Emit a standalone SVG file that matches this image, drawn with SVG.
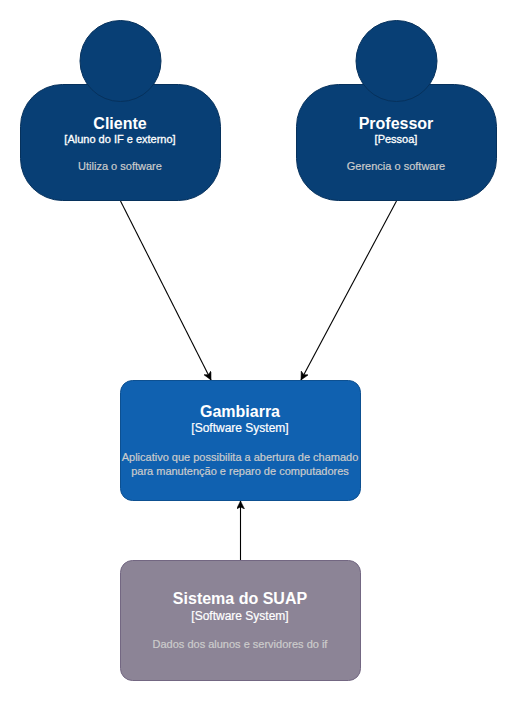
<svg xmlns="http://www.w3.org/2000/svg" width="517" height="701" viewBox="0 0 517 701">
<style>
text{font-family:"Liberation Sans",Arial,Helvetica,sans-serif;text-anchor:middle}
.t{font-size:16px;font-weight:bold;fill:#fff}
.s{font-size:12px;fill:#fff;stroke:#fff;stroke-width:.2}
.sb{font-size:11px;fill:#fff;stroke:#fff;stroke-width:.3}
.d{font-size:11px;fill:#ccc;stroke:#ccc;stroke-width:.2}
.p{fill:#083f75;stroke:#06315c}
.c{fill:none;stroke:#000;stroke-width:1.1;marker-end:url(#a)}
</style>
<defs>
<marker id="a" markerUnits="userSpaceOnUse" markerWidth="10" markerHeight="10" refX="8" refY="4" orient="auto"><path d="M0 0L8 4L0 8L2 4Z" fill="#000" stroke="#000" stroke-width="0.5"/></marker>
</defs>
<rect width="517" height="701" fill="#fff"/>
<g id="connectors">
<path class="c" d="M120.500 201L211 380"/>
<path class="c" d="M396.500 201L301 380"/>
<path class="c" d="M240.500 560V501"/>
</g>
<g id="cliente">
<rect class="p" x="20.500" y="84.500" width="200" height="116" rx="42" ry="42"/>
<circle class="p" cx="120.500" cy="61" r="40.500"/>
<text class="t" x="120" y="129">Cliente</text>
<text class="sb" x="120" y="143">[Aluno do IF e externo]</text>
<text class="d" x="120" y="170">Utiliza o software</text>
</g>
<g id="professor">
<rect class="p" x="296.500" y="84.500" width="200" height="116" rx="42" ry="42"/>
<circle class="p" cx="396.500" cy="61" r="40.500"/>
<text class="t" x="396" y="129">Professor</text>
<text class="sb" x="396" y="143">[Pessoa]</text>
<text class="d" x="396" y="170">Gerencia o software</text>
</g>
<g id="gambiarra">
<rect x="120.500" y="380.500" width="240" height="120" rx="12" ry="12" fill="#1061b0" stroke="#0d5091"/>
<text class="t" x="240" y="417">Gambiarra</text>
<text class="s" x="240" y="432">[Software System]</text>
<text class="d" x="240" y="461">Aplicativo que possibilita a abertura de chamado</text>
<text class="d" x="240" y="475">para manutenção e reparo de computadores</text>
</g>
<g id="suap">
<rect x="120.500" y="560.500" width="240" height="120" rx="12" ry="12" fill="#8c8496" stroke="#736782"/>
<text class="t" x="240" y="604">Sistema do SUAP</text>
<text class="s" x="240" y="620">[Software System]</text>
<text class="d" x="240" y="648">Dados dos alunos e servidores do if</text>
</g>
</svg>
